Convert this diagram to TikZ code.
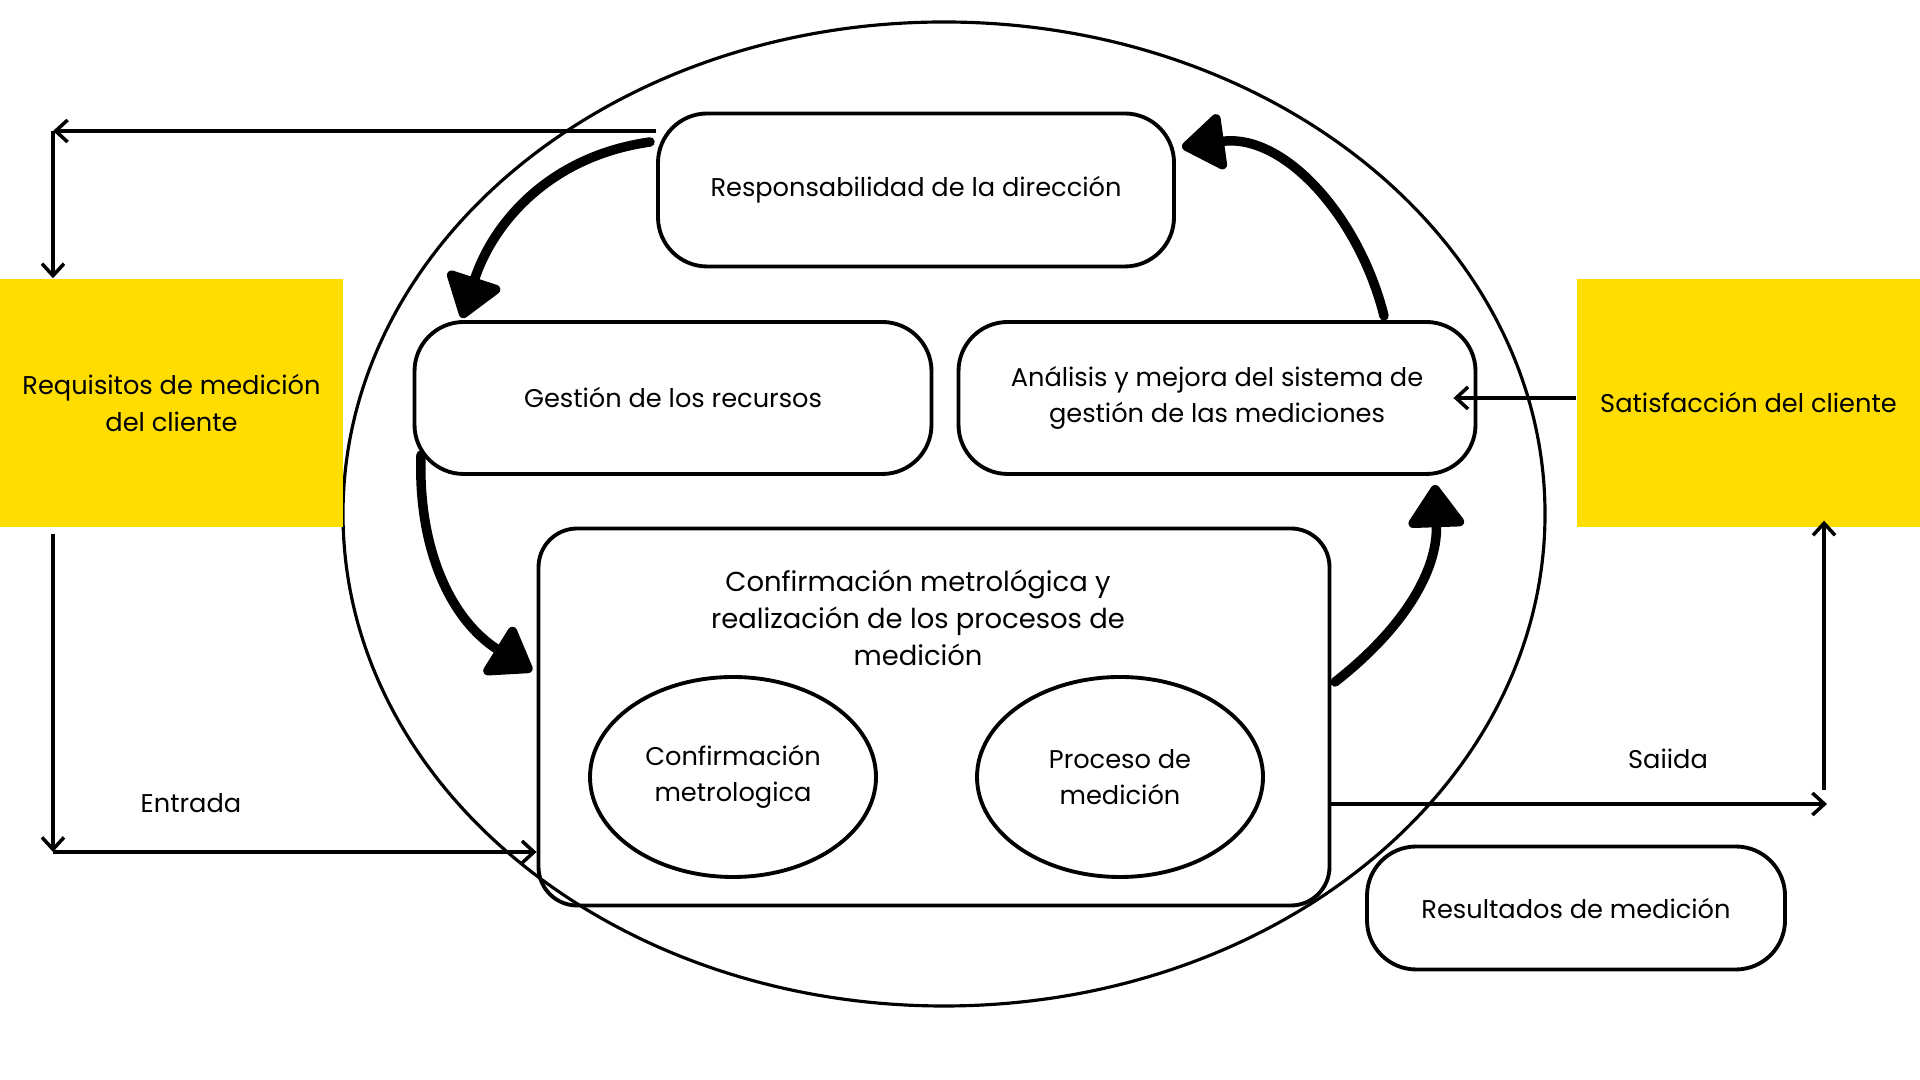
\documentclass[tikz,border=0pt]{standalone}
\usepackage{fontspec}
\setmainfont{Poppins}
\usetikzlibrary{shapes.geometric,arrows.meta}

\definecolor{amarillo}{RGB}{255,221,0}

\begin{document}
\begin{tikzpicture}
    % --- CONFIGURACION ---
    \tikzset{
        txt/.style={font=\fontsize{7.3}{10.4}\selectfont, align=center},
        caja/.style={txt, draw, line width=1.1pt, rounded corners=14pt, inner sep=0pt},
        elipse/.style={txt, draw, ellipse, line width=1.1pt, inner sep=0pt},
        amarilla/.style={txt, fill=amarillo, inner sep=0pt},
        flecha/.style={line width=1pt, -{Straight Barb[length=1.2mm,width=2.2mm]}},
        gruesa/.style={line width=2.7pt, line cap=round,
            -{Triangle[length=4.6mm,width=6.2mm,round]}}
    }

    \useasboundingbox (0,0) rectangle (19.2,10.8);

    % ===================================================
    % 1. ELIPSE DEL SISTEMA
    % ===================================================
    \draw[line width=0.9pt] (9.44,5.66) ellipse [x radius=6.01, y radius=4.92];

    % ===================================================
    % 2. PROCESOS
    % ===================================================
    \node[caja, minimum width=5.16cm, minimum height=1.53cm] (resp) at (9.16,8.90)
        {Responsabilidad de la dirección};
    \node[caja, minimum width=5.17cm, minimum height=1.52cm] (gest) at (6.73,6.82)
        {Gestión de los recursos};
    \node[caja, minimum width=5.17cm, minimum height=1.52cm] (anal) at (12.17,6.82)
        {Análisis y mejora del sistema de\\gestión de las mediciones};
    \node[caja, rounded corners=11pt, minimum width=7.91cm, minimum height=3.77cm] (conf) at (9.34,3.63) {};
    \node[txt, font=\fontsize{7.8}{10.6}\selectfont] (conft) at (9.18,4.62)
        {Confirmación metrológica y\\realización de los procesos de\\medición};

    \node[elipse, minimum width=2.86cm, minimum height=2.00cm] (cmet) at (7.33,3.03)
        {Confirmación\\metrologica};
    \node[elipse, minimum width=2.86cm, minimum height=2.00cm] (pmed) at (11.20,3.03)
        {Proceso de\\medición};

    \node[caja, minimum width=4.18cm, minimum height=1.23cm] (res) at (15.76,1.72)
        {Resultados de medición};

    % ===================================================
    % 3. CLIENTE
    % ===================================================
    \node[amarilla, minimum width=3.43cm, minimum height=2.48cm] (req) at (1.715,6.77)
        {Requisitos de medición\\del cliente};
    \node[amarilla, minimum width=3.43cm, minimum height=2.48cm] (sat) at (17.485,6.77)
        {Satisfacción del cliente};

    % ===================================================
    % 4. CICLO (flechas gruesas)
    % ===================================================
    \coordinate (c1) at (6.50,9.38);
    \coordinate (c2) at (4.62,7.62);
    \coordinate (c3) at (4.21,6.25);
    \coordinate (c4) at (5.32,4.09);
    \coordinate (c5) at (13.35,3.98);
    \coordinate (c6) at (14.35,5.95);
    \coordinate (c7) at (13.84,7.64);
    \coordinate (c8) at (11.82,9.33);

    \draw[gruesa] (c1) to[out=188, in=72] (c2);
    \draw[gruesa] (c3) to[out=268, in=148] (c4);
    \draw[gruesa] (c5) to[out=38, in=272] (c6);
    \draw[gruesa] (c7) to[out=104, in=8] (c8);

    % ===================================================
    % 5. ENTRADA / SALIDA
    % ===================================================
    \coordinate (sup) at (0.53,9.49);
    \coordinate (inf) at (0.53,2.28);
    \coordinate (der) at (18.24,2.76);

    \draw[flecha] (resp.west |- sup) -- (sup);
    \draw[flecha] (sup) -- (req.north -| sup);
    \draw[flecha] ([yshift=-0.06cm]req.south -| inf) -- (inf);
    \draw[flecha] (inf) -- (conf.west |- inf);
    \draw[flecha] (conf.east |- der) -- ([xshift=0.03cm]der);
    \draw[flecha] ([yshift=0.14cm]der) -- ([yshift=0.07cm]sat.south -| der);
    \draw[flecha] (sat.west |- anal.east) -- ([xshift=-0.24cm]anal.east);

    \node[txt] (ent) at (1.91,2.77) {Entrada};
    \node[txt] (sal) at (16.68,3.21) {Saiida};

\end{tikzpicture}
\end{document}
